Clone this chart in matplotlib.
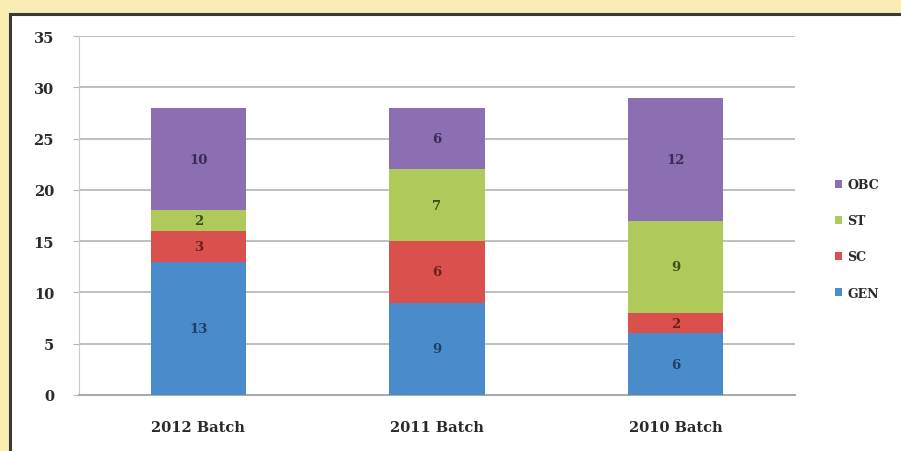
import numpy as np
import matplotlib.pyplot as plt
from matplotlib.patches import Rectangle

batches = ["2012 Batch", "2011 Batch", "2010 Batch"]
gen = [13, 9, 6]
sc = [3, 6, 2]
st = [2, 7, 9]
obc = [10, 6, 12]

series = [("GEN", gen, "#4A8CCB"), ("SC", sc, "#D9504C"),
          ("ST", st, "#AFC95A"), ("OBC", obc, "#8C6FB2")]
label_colors = {"GEN": "#1F3F66", "SC": "#6E1E1C", "ST": "#3E4D1C", "OBC": "#3A2A55"}
FONT = "DejaVu Serif"

fig = plt.figure(figsize=(9.01, 4.52), dpi=100)
fig.patch.set_facecolor("#F8EDB2")
# white chart panel with dark frame
fig.add_artist(Rectangle((10 / 901, -0.05), 1.0, 1 - 15 / 452 + 0.05,
                         transform=fig.transFigure, facecolor="white",
                         edgecolor="#3A3A3A", linewidth=2.2, zorder=0))

ax = fig.add_axes([79 / 901, 1 - 396 / 452, 716 / 901, (396 - 37) / 452])
ax.set_facecolor("none")

x = np.arange(len(batches))
bottom = np.zeros(len(batches))
handles = []
for name, vals, col in series:
    bars = ax.bar(x, vals, width=0.4, bottom=bottom, color=col, label=name, zorder=3)
    handles.append(bars)
    for xi, b, v in zip(x, bottom, vals):
        ax.text(xi, b + v / 2, str(v), ha="center", va="center",
                fontsize=9.5, fontweight="bold", family=FONT,
                color=label_colors[name], zorder=4)
    bottom += vals

ax.set_xlim(-0.5, 2.5)
ax.set_ylim(0, 35)
ax.set_yticks(range(0, 36, 5))
ax.set_xticks(x)
ax.set_xticklabels(batches)
ax.yaxis.grid(True, color="#B4B4B4", linewidth=1.2, zorder=0)
for s in ["top", "right"]:
    ax.spines[s].set_visible(False)
ax.spines["left"].set_color("#C8C8C8")
ax.spines["bottom"].set_color("#A8A8A8")
ax.spines["bottom"].set_linewidth(1.4)
ax.tick_params(axis="y", length=4, color="#B4B4B4", pad=14)
ax.tick_params(axis="x", length=0, pad=18)
for lab in ax.get_xticklabels() + ax.get_yticklabels():
    lab.set_family(FONT)
    lab.set_fontweight("bold")
    lab.set_fontsize(10.5)
    lab.set_color("#2A2A2A")

leg = ax.legend(handles[::-1], [s[0] for s in series][::-1],
                loc="center left", bbox_to_anchor=(1.04, 0.435),
                frameon=False, handlelength=0.6, handleheight=0.6,
                labelspacing=1.85, handletextpad=0.4,
                prop={"family": FONT, "weight": "bold", "size": 9})
for t in leg.get_texts():
    t.set_color("#2A2A2A")

fig.savefig("out.png", dpi=100, facecolor=fig.get_facecolor())
